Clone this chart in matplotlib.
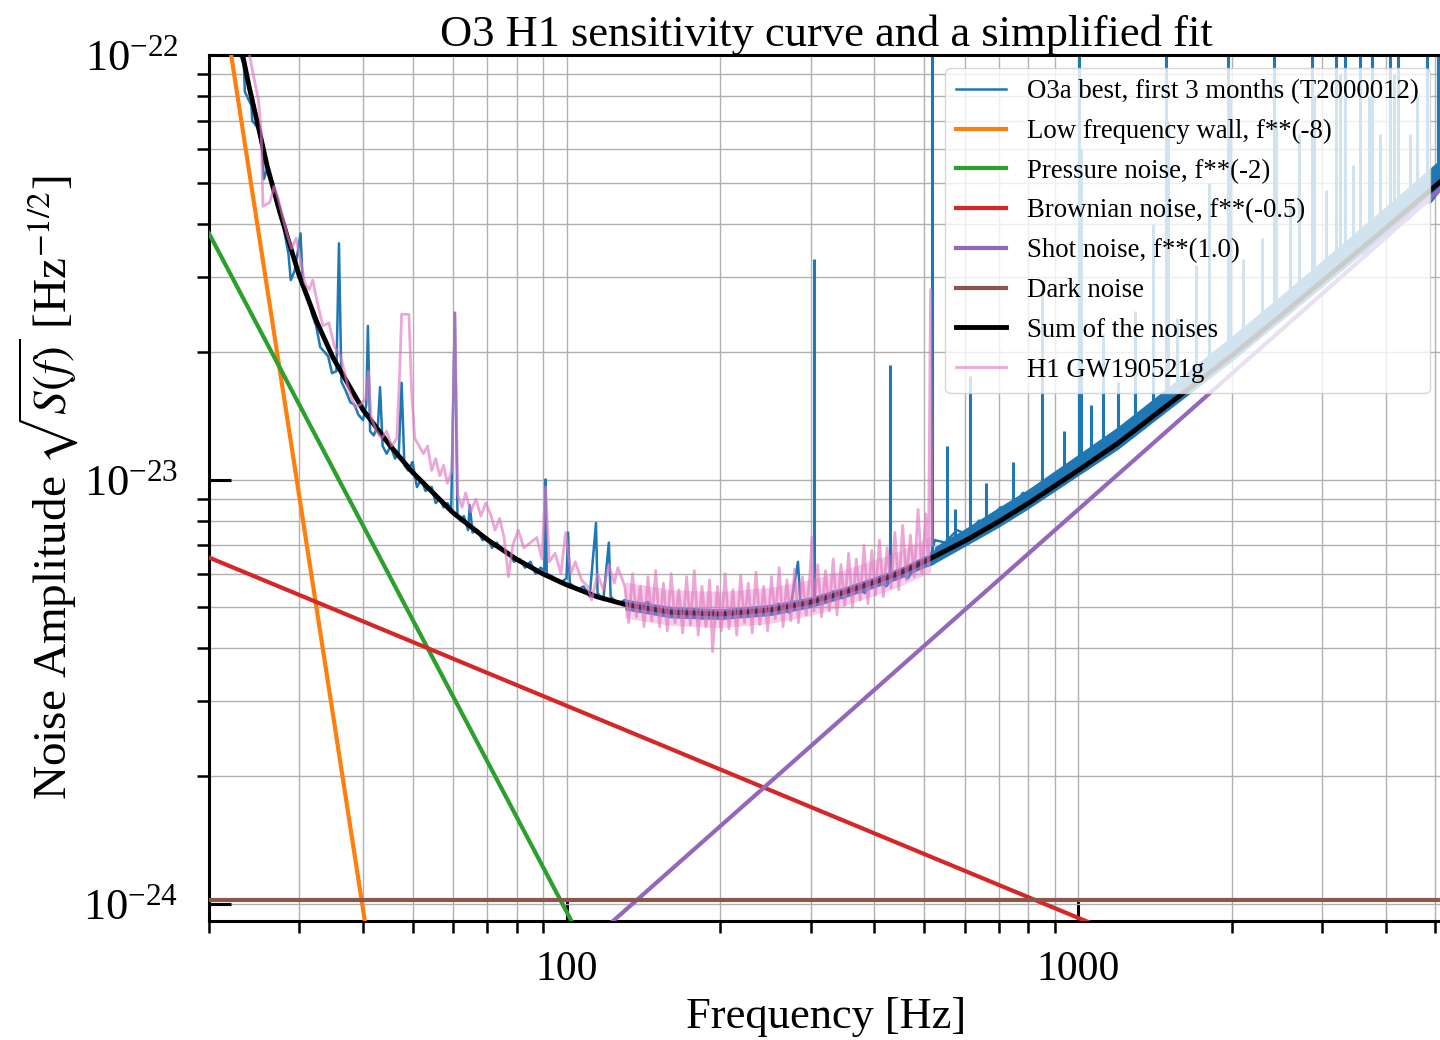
import matplotlib
matplotlib.use("Agg")
import matplotlib.pyplot as plt
from matplotlib.ticker import NullFormatter

plt.rcParams['font.family'] = ['Liberation Serif', 'DejaVu Serif']
plt.rcParams['mathtext.fontset'] = 'stix'

# ---- data (Hz, strain / sqrt(Hz)) ----
sum_f = [20, 21, 22, 23, 24, 25, 26, 27.5, 30, 32.5, 35, 40, 45, 50, 60, 70, 80, 90, 100,
         115, 130, 160, 200, 250, 300, 350, 400, 450, 500, 600, 700, 800, 1000, 1200,
         1500, 2000, 2500, 3000, 4000, 5200]
sum_asd = [2.66e-22, 1.9e-22, 1.4e-22, 1.07e-22, 8.34e-23, 6.74e-23, 5.46e-23, 4.27e-23,
           3.03e-23, 2.35e-23, 1.93e-23, 1.46e-23, 1.21e-23, 1.04e-23, 8.35e-24, 7.22e-24,
           6.48e-24, 5.99e-24, 5.65e-24, 5.29e-24, 5.08e-24, 4.87e-24, 4.82e-24, 4.93e-24,
           5.14e-24, 5.43e-24, 5.73e-24, 6.03e-24, 6.4e-24, 7.16e-24, 7.96e-24, 8.79e-24,
           1.05e-23, 1.22e-23, 1.5e-23, 1.96e-23, 2.44e-23, 2.93e-23, 3.91e-23, 5.12e-23]

wall_f = [21.5, 41.5]
wall_asd = [1.24e-22, 7.3e-25]
press_f = [20, 106]
press_asd = [3.8e-23, 8.4e-25]
brown_f = [20, 1100]
brown_asd = [6.55e-24, 8.85e-25]
shot_f = [118, 5200]
shot_asd = [8.7e-25, 4.92e-23]
dark_f = [20, 5200]
dark_asd = [1.02e-24, 1.02e-24]

# O3a measured curve
blue_f = [21.5, 22.5, 23.0, 23.4, 23.5, 24.2, 24.3, 25.0, 25.4, 25.6, 26.0, 26.6, 27.2, 27.6,
          28.0, 28.6, 28.9, 29.4, 29.9, 30.2, 30.5, 31.2, 31.8, 32.4, 33.0, 33.6, 34.2, 34.8,
          35.5, 35.9, 36.3, 37.0, 37.8, 38.5, 39.2, 40.0, 40.6, 40.9, 41.3, 42.0, 42.8, 43.2,
          43.7, 44.5, 45.3, 46.2, 47.0, 47.6, 48.2, 49.0, 50.0, 51.0, 52.0, 53.0, 54.5, 55.5,
          56.5, 57.5, 58.5, 59.5, 60.5, 61.2, 62.0, 63.0, 64.2, 64.7, 65.5, 67.0, 68.5, 70.0,
          71.5, 73.0, 75.0, 77.0, 79.0, 81.0, 83.0, 85.0, 87.0, 89.0, 90.5, 91.0, 91.5, 94.0,
          97.0, 100.0, 100.7, 101.5, 105.0, 108.0, 111.0, 114.2, 115.0, 118.0, 121.0, 122.0,
          126.0, 130.0, 137, 144, 151, 159, 167, 175, 184, 193, 203, 213, 224, 235, 247, 260,
          273, 283.5, 287, 301, 316, 332, 348, 365, 383, 402, 422, 443, 465, 488, 510, 525,
          550, 580, 610, 640, 670, 705, 740, 780, 820, 860, 905, 950, 1000, 1050, 1100, 1160,
          1220, 1280, 1350, 1420, 1490, 1570, 1650, 1730, 1820, 1910, 2010, 2110, 2220, 2330,
          2450, 2570, 2700, 2840, 2980, 3130, 3290, 3460, 3630, 3820, 4010, 4210, 4430, 4650,
          4890, 5200]
blue_asd = [1.6e-22, 1.15e-22, 1.0e-22, 9.5e-23, 8.2e-23, 7.6e-23, 7.0e-23, 6.7e-23, 6.0e-23,
            5.1e-23, 5.4e-23, 5.0e-23, 4.4e-23, 4.3e-23, 3.9e-23, 3.4e-23, 2.95e-23, 3.1e-23,
            3.5e-23, 3.8e-23, 2.9e-23, 2.7e-23, 2.45e-23, 2.3e-23, 2.05e-23, 2.0e-23, 1.95e-23,
            1.78e-23, 1.8e-23, 3.6e-23, 1.7e-23, 1.62e-23, 1.52e-23, 1.5e-23, 1.42e-23, 1.38e-23,
            1.5e-23, 2.3e-23, 1.3e-23, 1.27e-23, 1.35e-23, 1.65e-23, 1.2e-23, 1.15e-23, 1.2e-23,
            1.12e-23, 1.15e-23, 1.69e-23, 1.08e-23, 1.05e-23, 1.1e-23, 9.6e-24, 1.0e-23, 9.4e-24,
            9.6e-24, 8.8e-24, 9.0e-24, 8.6e-24, 8.8e-24, 8.5e-24, 2.47e-23, 8.3e-24, 8.0e-24,
            8.2e-24, 7.6e-24, 8.7e-24, 7.5e-24, 7.6e-24, 7.2e-24, 7.3e-24, 6.9e-24, 7.1e-24,
            6.8e-24, 6.7e-24, 6.4e-24, 6.5e-24, 6.2e-24, 6.4e-24, 6.0e-24, 6.2e-24, 6.1e-24,
            1.0e-23, 6.0e-24, 5.9e-24, 5.7e-24, 5.85e-24, 7.5e-24, 5.7e-24, 5.5e-24, 5.6e-24,
            5.3e-24, 7.9e-24, 5.4e-24, 5.2e-24, 7.1e-24, 5.3e-24, 5.1e-24, 5.2e-24, 4.95e-24,
            5.15e-24, 4.85e-24, 5.0e-24, 4.75e-24, 4.95e-24, 4.7e-24, 4.9e-24, 4.7e-24, 4.95e-24,
            4.75e-24, 5.0e-24, 4.8e-24, 5.1e-24, 4.85e-24, 6.4e-24, 5.0e-24, 5.15e-24, 5.1e-24,
            5.45e-24, 5.25e-24, 5.6e-24, 5.4e-24, 5.85e-24, 5.6e-24, 6.1e-24, 5.85e-24, 6.4e-24,
            6.3e-24, 7.2e-24, 7.1e-24, 7.6e-24, 7.4e-24, 8.0e-24, 7.9e-24, 8.6e-24, 8.4e-24,
            9.3e-24, 9.1e-24, 9.9e-24, 9.7e-24, 1.06e-23, 1.08e-23, 1.14e-23, 1.13e-23, 1.24e-23,
            1.26e-23, 1.36e-23, 1.38e-23, 1.5e-23, 1.52e-23, 1.65e-23, 1.67e-23, 1.8e-23,
            1.83e-23, 1.97e-23, 2.0e-23, 2.15e-23, 2.18e-23, 2.35e-23, 2.38e-23, 2.57e-23,
            2.6e-23, 2.8e-23, 2.85e-23, 3.07e-23, 3.12e-23, 3.37e-23, 3.42e-23, 3.7e-23,
            3.74e-23, 4.05e-23, 4.1e-23, 4.45e-23, 4.5e-23, 4.95e-23]

blue_band_f = [130, 160, 200, 250, 300, 350, 400, 450, 500, 520, 525, 600, 700, 800,
               1000, 1200, 1500, 2000, 2500, 3000, 4000, 5200]
blue_band_lo = [4.93e-24, 4.72e-24, 4.68e-24, 4.78e-24, 4.99e-24, 5.27e-24, 5.56e-24,
                5.85e-24, 6.2e-24, 6.3e-24, 6.35e-24, 6.95e-24, 7.72e-24, 8.53e-24,
                1.02e-23, 1.18e-23, 1.455e-23, 1.9e-23, 2.37e-23, 2.84e-23, 3.79e-23, 4.97e-23]
blue_band_hi = [5.23e-24, 5.02e-24, 4.96e-24, 5.08e-24, 5.29e-24, 5.59e-24, 5.9e-24,
                6.21e-24, 6.6e-24, 6.7e-24, 6.95e-24, 7.65e-24, 8.6e-24, 9.5e-24, 1.145e-23,
                1.335e-23, 1.65e-23, 2.18e-23, 2.72e-23, 3.28e-23, 4.4e-23, 5.79e-23]

spike_f = [305, 429, 518, 555, 575, 615, 660, 745, 850, 940, 1005, 1015, 1060, 1120, 1200,
           1290, 1400, 1486, 1500, 1560, 1700, 1800, 1965, 1985, 2100, 2289, 2416, 2440, 2600,
           2700, 2867, 2900, 3050, 3194, 3250, 3326, 3450, 3558, 3700, 3756, 3900, 4073,
           4150, 4222, 4450, 4600, 4810, 5054]
spike_base = [5.1e-24, 5.9e-24, 6.5e-24, 6.8e-24, 7.0e-24, 7.3e-24, 7.6e-24, 8.3e-24,
              9.2e-24, 1.0e-23, 1.05e-23, 1.06e-23, 1.1e-23, 1.15e-23, 1.22e-23, 1.3e-23,
              1.4e-23, 1.49e-23, 1.5e-23, 1.55e-23, 1.68e-23, 1.77e-23, 1.92e-23, 1.94e-23,
              2.05e-23, 2.23e-23, 2.35e-23, 2.37e-23, 2.53e-23, 2.63e-23, 2.8e-23, 2.83e-23,
              2.98e-23, 3.12e-23, 3.17e-23, 3.25e-23, 3.37e-23, 3.48e-23, 3.62e-23, 3.67e-23,
              3.81e-23, 3.98e-23, 4.06e-23, 4.13e-23, 4.35e-23, 4.5e-23, 4.71e-23, 4.95e-23]
spike_top = [3.3e-23, 1.86e-23, 2e-22, 1.2e-23, 8.5e-24, 1.75e-23, 9.8e-24, 1.1e-23, 2.8e-23,
             1.3e-23, 2e-22, 6e-23, 1.5e-23, 2.2e-23, 1.7e-23, 2.5e-23, 4.0e-23, 2e-22, 7e-23,
             2.4e-23, 3.2e-23, 5.0e-23, 2e-22, 8e-23, 3.3e-23, 3.7e-23, 2e-22, 7e-23, 4.5e-23,
             6.5e-23, 2e-22, 8e-23, 4.8e-23, 2e-22, 9e-23, 2e-22, 5.5e-23, 2e-22, 8e-23, 2e-22,
             6.5e-23, 2e-22, 9e-23, 2e-22, 6.5e-23, 8e-23, 2e-22, 2e-22]

# GW190521g H1 curve
pink_f = [23.5, 24.0, 24.5, 25.0, 25.3, 25.5, 26.3, 26.8, 27.3, 27.8, 28.4, 29.0, 29.6, 30.2,
          30.8, 31.4, 31.9, 32.6, 33.4, 34.3, 35.2, 36.2, 37.4, 38.6, 39.5, 40.5, 41.0, 41.5,
          42.5, 43.5, 44.5, 45.5, 46.6, 47.2, 47.6, 49.2, 49.8, 50.5, 51.5, 52.5, 53.5, 54.5,
          55.5, 56.5, 57.5, 58.5, 59.7, 60.5, 61.3, 62.5, 63.5, 65.0, 66.5, 68.0, 69.5, 71.0,
          72.5, 74.0, 75.5, 77.0, 78.5, 80.5, 82.5, 85.0, 87.5, 89.5, 91.0, 92.5, 95.0, 97.5,
          99.6, 102.0, 104.0, 107.0, 110.0, 112.0, 115.0, 118.0, 121.0, 124.0, 126.0,
          130, 132.3, 134.6, 137, 139.4, 141.8, 144.3, 146.8, 149.4, 152, 154.7, 157.4, 160.2,
          163, 165.8, 168.7, 171.7, 174.7, 177.8, 180.9, 184, 187.3, 190.5, 193, 197.3, 200.7,
          204.2, 207.8, 211.5, 215.2, 219, 222.8, 226.7, 230.7, 234.7, 238.8, 243, 247.3,
          251.6, 256, 260.5, 265.1, 269.7, 274.4, 279.2, 284.1, 289.1, 294.2, 299.3, 302,
          304.6, 309.9, 315.3, 320.9, 326.5, 332.2, 338, 344, 350, 356.1, 362.3, 368.7, 375.1,
          381.7, 388.4, 395.2, 402.1, 409.2, 416.3, 423.6, 431.1, 438.6, 446.3, 454.1, 462.1,
          470.2, 478.4, 486.8, 495.3, 504, 510, 515, 518]
pink_asd = [1.2e-22, 1.0e-22, 8.8e-23, 7.8e-23, 6.6e-23, 4.4e-23, 4.5e-23, 4.9e-23, 4.6e-23,
            4.2e-23, 3.8e-23, 3.5e-23, 3.7e-23, 3.3e-23, 2.9e-23, 2.8e-23, 2.95e-23, 2.6e-23,
            2.3e-23, 2.34e-23, 2.05e-23, 1.95e-23, 1.65e-23, 1.48e-23, 1.5e-23, 1.55e-23,
            1.8e-23, 1.4e-23, 1.3e-23, 1.25e-23, 1.3e-23, 1.2e-23, 1.25e-23, 1.8e-23, 2.45e-23,
            2.45e-23, 1.6e-23, 1.25e-23, 1.2e-23, 1.15e-23, 1.2e-23, 1.05e-23, 1.12e-23,
            1.02e-23, 1.08e-23, 9.8e-24, 1.05e-23, 2.47e-23, 9.2e-24, 8.6e-24, 9.3e-24, 8.4e-24,
            9.0e-24, 8.2e-24, 8.8e-24, 8.3e-24, 7.6e-24, 8.1e-24, 7.3e-24, 5.9e-24, 7.0e-24,
            7.6e-24, 6.9e-24, 7.1e-24, 7.3e-24, 6.5e-24, 9.6e-24, 6.4e-24, 6.7e-24, 6.0e-24,
            7.5e-24, 6.0e-24, 6.4e-24, 5.8e-24, 5.6e-24, 5.2e-24, 6.0e-24, 5.5e-24, 6.3e-24,
            5.7e-24, 6.2e-24,
            5.6e-24, 4.6e-24, 6.0e-24, 4.75e-24, 5.6e-24, 4.5e-24, 5.9e-24, 4.65e-24, 6.1e-24,
            4.5e-24, 5.7e-24, 4.4e-24, 6.0e-24, 4.6e-24, 5.5e-24, 4.35e-24, 5.9e-24, 4.55e-24,
            6.1e-24, 4.3e-24, 5.6e-24, 4.5e-24, 5.8e-24, 3.93e-24, 5.6e-24, 4.4e-24, 6.0e-24,
            4.45e-24, 5.5e-24, 4.3e-24, 5.95e-24, 4.6e-24, 5.7e-24, 4.35e-24, 6.05e-24,
            4.55e-24, 5.6e-24, 4.4e-24, 5.9e-24, 4.7e-24, 6.2e-24, 4.5e-24, 5.8e-24, 4.65e-24,
            6.15e-24, 4.6e-24, 5.9e-24, 4.8e-24, 6.0e-24, 7.3e-24, 4.9e-24, 6.3e-24, 4.75e-24,
            6.1e-24, 4.9e-24, 6.5e-24, 4.8e-24, 6.3e-24, 5.05e-24, 6.7e-24, 5.0e-24, 6.5e-24,
            5.2e-24, 7.0e-24, 5.1e-24, 6.8e-24, 5.35e-24, 7.2e-24, 5.3e-24, 6.9e-24, 5.55e-24,
            7.5e-24, 5.5e-24, 7.8e-24, 5.8e-24, 7.4e-24, 5.9e-24, 8.5e-24, 6.0e-24, 8.3e-24,
            6.3e-24, 2.8e-23, 7.0e-24]

pink_band_f = [130, 160, 200, 250, 300, 350, 400, 450, 500, 515]
pink_band_lo = [4.72e-24, 4.53e-24, 4.48e-24, 4.58e-24, 4.78e-24, 5.05e-24, 5.33e-24,
                5.61e-24, 5.95e-24, 6.05e-24]
pink_band_hi = [5.74e-24, 5.5e-24, 5.45e-24, 5.57e-24, 5.81e-24, 6.14e-24, 6.47e-24,
                6.81e-24, 7.23e-24, 7.35e-24]

x_ticks = [100, 1000]
x_ticklabels = ['100', '1000']
y_ticks = [1e-24, 1e-23, 1e-22]

# ---- figure ----
fig = plt.figure(figsize=(14.4, 10.4), dpi=100)
ax = fig.add_axes([209 / 1440, 1 - 921 / 1040, 1234 / 1440, 866 / 1040])

ax.fill_between(blue_band_f, blue_band_lo, blue_band_hi, color='C0', lw=0, zorder=2)
ax.vlines(spike_f, spike_base, spike_top, color='C0', lw=2.2, zorder=2)
ax.plot(blue_f, blue_asd, color='C0', lw=1.8, zorder=2,
        label='O3a best, first 3 months (T2000012)')
ax.plot(wall_f, wall_asd, color='C1', lw=3, zorder=3, label='Low frequency wall, f**(-8)')
ax.plot(press_f, press_asd, color='C2', lw=3, zorder=3, label='Pressure noise, f**(-2)')
ax.plot(brown_f, brown_asd, color='C3', lw=3, zorder=3, label='Brownian noise, f**(-0.5)')
ax.plot(shot_f, shot_asd, color='C4', lw=3, zorder=3, label='Shot noise, f**(1.0)')
ax.plot(dark_f, dark_asd, color='C5', lw=3, zorder=3, label='Dark noise')
ax.plot(sum_f, sum_asd, color='k', lw=3.5, zorder=4, label='Sum of the noises')
ax.fill_between(pink_band_f, pink_band_lo, pink_band_hi, color='C6', alpha=0.35, lw=0, zorder=5)
ax.plot(pink_f, pink_asd, color='C6', alpha=0.65, lw=2.0, zorder=5, label='H1 GW190521g')

ax.set_xscale('log')
ax.set_yscale('log')
ax.set_xlim(20, 5172)
ax.set_ylim(9.12e-25, 1e-22)
ax.set_xticks(x_ticks, x_ticklabels)
ax.set_yticks(y_ticks)
ax.xaxis.set_minor_formatter(NullFormatter())
ax.yaxis.set_minor_formatter(NullFormatter())

ax.grid(True, which='both', color='#b0b0b0', lw=1.0)
ax.set_axisbelow(True)
for s in ax.spines.values():
    s.set_linewidth(2.2)
ax.tick_params(which='major', direction='in', length=16, width=2.2, labelsize=30)
ax.tick_params(axis='x', which='major', pad=21)
ax.tick_params(axis='y', which='major', pad=22, labelsize=32)
ax.tick_params(which='minor', direction='out', length=8.5, width=1.8)

ax.set_title('O3 H1 sensitivity curve and a simplified fit', fontsize=32, pad=6)
ax.set_xlabel('Frequency [Hz]', fontsize=32, labelpad=6)
ax.set_ylabel(r'Noise Amplitude $\sqrt{S(f)}$ [Hz$^{-1/2}$]', fontsize=34, labelpad=2)

ax.legend(loc='upper right', fontsize=19.3, labelspacing=0.55, handlelength=1.85)

fig.savefig('out.png', dpi=100)
